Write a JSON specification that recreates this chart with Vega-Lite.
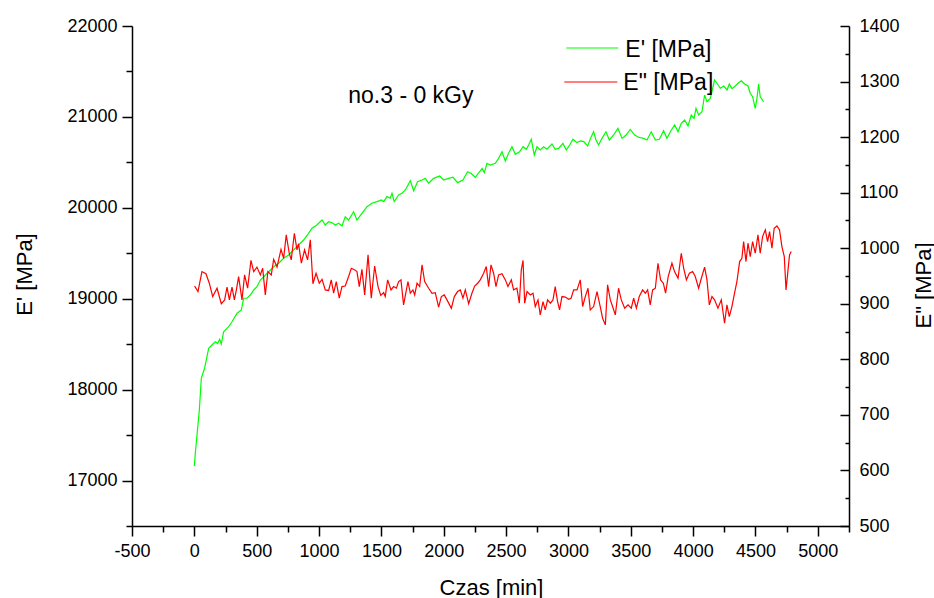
{
  "$schema": "https://vega.github.io/schema/vega-lite/v6.json",
  "width": 717,
  "height": 500,
  "autosize": {"type": "none"},
  "padding": {"left": 132, "top": 26, "right": 85, "bottom": 72},
  "background": "white",
  "config": {
    "view": {"stroke": null},
    "font": "Liberation Sans",
    "axis": {
      "grid": false,
      "domainColor": "black",
      "domainWidth": 1.5,
      "tickColor": "black",
      "tickWidth": 1.5,
      "labelFont": "Liberation Sans",
      "labelFontSize": 18,
      "labelColor": "black",
      "titleFont": "Liberation Sans",
      "titleFontSize": 22,
      "titleFontWeight": "normal",
      "titleColor": "black",
      "labelOverlap": false,
      "labelFlush": false,
      "labelBound": false
    }
  },
  "datasets": {
    "ep": [
      {"t": 0, "ep": 17160}, {"t": 8, "ep": 17303}, {"t": 40, "ep": 17776}, {"t": 56, "ep": 18128}, {"t": 82, "ep": 18235},
      {"t": 115, "ep": 18455}, {"t": 141, "ep": 18491}, {"t": 168, "ep": 18527}, {"t": 187, "ep": 18510}, {"t": 203, "ep": 18554},
      {"t": 216, "ep": 18502}, {"t": 235, "ep": 18637}, {"t": 275, "ep": 18692}, {"t": 302, "ep": 18747}, {"t": 342, "ep": 18840},
      {"t": 377, "ep": 18876}, {"t": 395, "ep": 19005}, {"t": 422, "ep": 19005}, {"t": 449, "ep": 19041}, {"t": 476, "ep": 19096},
      {"t": 502, "ep": 19132}, {"t": 529, "ep": 19206}, {"t": 556, "ep": 19242}, {"t": 596, "ep": 19297}, {"t": 636, "ep": 19352},
      {"t": 676, "ep": 19390}, {"t": 716, "ep": 19445}, {"t": 756, "ep": 19481}, {"t": 796, "ep": 19536}, {"t": 836, "ep": 19591},
      {"t": 876, "ep": 19646}, {"t": 916, "ep": 19719}, {"t": 943, "ep": 19775}, {"t": 983, "ep": 19811}, {"t": 1024, "ep": 19866},
      {"t": 1050, "ep": 19811}, {"t": 1077, "ep": 19847}, {"t": 1104, "ep": 19836}, {"t": 1130, "ep": 19811}, {"t": 1157, "ep": 19830},
      {"t": 1184, "ep": 19800}, {"t": 1210, "ep": 19902}, {"t": 1237, "ep": 19866}, {"t": 1277, "ep": 19957}, {"t": 1304, "ep": 19866},
      {"t": 1344, "ep": 19940}, {"t": 1385, "ep": 20013}, {"t": 1424, "ep": 20050}, {"t": 1465, "ep": 20068}, {"t": 1500, "ep": 20086},
      {"t": 1518, "ep": 20068}, {"t": 1545, "ep": 20123}, {"t": 1571, "ep": 20105}, {"t": 1585, "ep": 20160}, {"t": 1603, "ep": 20068},
      {"t": 1638, "ep": 20141}, {"t": 1665, "ep": 20160}, {"t": 1692, "ep": 20196}, {"t": 1732, "ep": 20298}, {"t": 1759, "ep": 20188},
      {"t": 1790, "ep": 20287}, {"t": 1826, "ep": 20306}, {"t": 1852, "ep": 20324}, {"t": 1879, "ep": 20270}, {"t": 1919, "ep": 20324},
      {"t": 1967, "ep": 20350}, {"t": 1999, "ep": 20306}, {"t": 2039, "ep": 20324}, {"t": 2074, "ep": 20336}, {"t": 2111, "ep": 20277},
      {"t": 2154, "ep": 20306}, {"t": 2191, "ep": 20397}, {"t": 2218, "ep": 20380}, {"t": 2253, "ep": 20336}, {"t": 2288, "ep": 20397},
      {"t": 2307, "ep": 20434}, {"t": 2325, "ep": 20387}, {"t": 2347, "ep": 20490}, {"t": 2373, "ep": 20471}, {"t": 2413, "ep": 20490},
      {"t": 2440, "ep": 20544}, {"t": 2467, "ep": 20617}, {"t": 2494, "ep": 20515}, {"t": 2520, "ep": 20600}, {"t": 2547, "ep": 20672},
      {"t": 2574, "ep": 20589}, {"t": 2608, "ep": 20617}, {"t": 2636, "ep": 20672}, {"t": 2662, "ep": 20644}, {"t": 2681, "ep": 20691},
      {"t": 2702, "ep": 20754}, {"t": 2726, "ep": 20581}, {"t": 2748, "ep": 20672}, {"t": 2774, "ep": 20636}, {"t": 2801, "ep": 20672},
      {"t": 2828, "ep": 20644}, {"t": 2868, "ep": 20702}, {"t": 2894, "ep": 20644}, {"t": 2921, "ep": 20654}, {"t": 2956, "ep": 20709},
      {"t": 2983, "ep": 20636}, {"t": 3010, "ep": 20691}, {"t": 3036, "ep": 20754}, {"t": 3068, "ep": 20717}, {"t": 3095, "ep": 20735},
      {"t": 3122, "ep": 20728}, {"t": 3154, "ep": 20680}, {"t": 3183, "ep": 20783}, {"t": 3202, "ep": 20837}, {"t": 3221, "ep": 20746},
      {"t": 3242, "ep": 20691}, {"t": 3269, "ep": 20764}, {"t": 3301, "ep": 20837}, {"t": 3328, "ep": 20746}, {"t": 3362, "ep": 20801},
      {"t": 3397, "ep": 20874}, {"t": 3430, "ep": 20764}, {"t": 3462, "ep": 20801}, {"t": 3496, "ep": 20863}, {"t": 3531, "ep": 20801},
      {"t": 3563, "ep": 20776}, {"t": 3603, "ep": 20764}, {"t": 3630, "ep": 20746}, {"t": 3664, "ep": 20837}, {"t": 3697, "ep": 20746},
      {"t": 3729, "ep": 20754}, {"t": 3763, "ep": 20848}, {"t": 3790, "ep": 20764}, {"t": 3825, "ep": 20856}, {"t": 3852, "ep": 20911},
      {"t": 3879, "ep": 20837}, {"t": 3905, "ep": 20930}, {"t": 3932, "ep": 20966}, {"t": 3959, "ep": 20900}, {"t": 3985, "ep": 21021},
      {"t": 4007, "ep": 20984}, {"t": 4023, "ep": 21095}, {"t": 4044, "ep": 21021}, {"t": 4071, "ep": 21057}, {"t": 4092, "ep": 21241},
      {"t": 4111, "ep": 21167}, {"t": 4137, "ep": 21204}, {"t": 4151, "ep": 21277}, {"t": 4172, "ep": 21406}, {"t": 4191, "ep": 21370},
      {"t": 4218, "ep": 21315}, {"t": 4245, "ep": 21340}, {"t": 4272, "ep": 21296}, {"t": 4290, "ep": 21362}, {"t": 4311, "ep": 21311},
      {"t": 4338, "ep": 21340}, {"t": 4365, "ep": 21376}, {"t": 4386, "ep": 21398}, {"t": 4413, "ep": 21362}, {"t": 4440, "ep": 21340},
      {"t": 4458, "ep": 21260}, {"t": 4477, "ep": 21223}, {"t": 4498, "ep": 21095}, {"t": 4512, "ep": 21204}, {"t": 4525, "ep": 21362},
      {"t": 4538, "ep": 21223}, {"t": 4565, "ep": 21167}
    ],
    "epp": [
      {"t": 2, "epp": 932}, {"t": 29, "epp": 922}, {"t": 61, "epp": 958}, {"t": 93, "epp": 954}, {"t": 120, "epp": 937},
      {"t": 147, "epp": 913}, {"t": 182, "epp": 928}, {"t": 216, "epp": 900}, {"t": 243, "epp": 907}, {"t": 262, "epp": 930},
      {"t": 281, "epp": 907}, {"t": 302, "epp": 930}, {"t": 321, "epp": 907}, {"t": 337, "epp": 925}, {"t": 355, "epp": 949},
      {"t": 382, "epp": 907}, {"t": 403, "epp": 952}, {"t": 427, "epp": 928}, {"t": 454, "epp": 978}, {"t": 476, "epp": 958},
      {"t": 502, "epp": 966}, {"t": 529, "epp": 952}, {"t": 548, "epp": 964}, {"t": 569, "epp": 916}, {"t": 590, "epp": 958},
      {"t": 617, "epp": 952}, {"t": 636, "epp": 980}, {"t": 663, "epp": 966}, {"t": 695, "epp": 998}, {"t": 716, "epp": 982},
      {"t": 737, "epp": 1024}, {"t": 761, "epp": 991}, {"t": 777, "epp": 979}, {"t": 802, "epp": 1027}, {"t": 823, "epp": 997},
      {"t": 836, "epp": 1008}, {"t": 858, "epp": 973}, {"t": 884, "epp": 997}, {"t": 908, "epp": 979}, {"t": 930, "epp": 1015},
      {"t": 951, "epp": 936}, {"t": 976, "epp": 955}, {"t": 1002, "epp": 937}, {"t": 1024, "epp": 944}, {"t": 1050, "epp": 925},
      {"t": 1077, "epp": 924}, {"t": 1098, "epp": 943}, {"t": 1117, "epp": 919}, {"t": 1138, "epp": 940}, {"t": 1162, "epp": 910},
      {"t": 1184, "epp": 931}, {"t": 1210, "epp": 932}, {"t": 1237, "epp": 949}, {"t": 1259, "epp": 964}, {"t": 1286, "epp": 961},
      {"t": 1304, "epp": 958}, {"t": 1323, "epp": 931}, {"t": 1344, "epp": 962}, {"t": 1366, "epp": 916}, {"t": 1393, "epp": 988},
      {"t": 1419, "epp": 910}, {"t": 1446, "epp": 968}, {"t": 1473, "epp": 931}, {"t": 1495, "epp": 915}, {"t": 1518, "epp": 920},
      {"t": 1531, "epp": 913}, {"t": 1550, "epp": 943}, {"t": 1577, "epp": 925}, {"t": 1598, "epp": 931}, {"t": 1620, "epp": 928},
      {"t": 1638, "epp": 940}, {"t": 1657, "epp": 943}, {"t": 1678, "epp": 898}, {"t": 1713, "epp": 940}, {"t": 1732, "epp": 919},
      {"t": 1753, "epp": 925}, {"t": 1767, "epp": 916}, {"t": 1786, "epp": 937}, {"t": 1807, "epp": 931}, {"t": 1826, "epp": 970},
      {"t": 1847, "epp": 940}, {"t": 1879, "epp": 928}, {"t": 1906, "epp": 919}, {"t": 1932, "epp": 920}, {"t": 1959, "epp": 894},
      {"t": 1981, "epp": 913}, {"t": 2004, "epp": 916}, {"t": 2026, "epp": 907}, {"t": 2061, "epp": 892}, {"t": 2085, "epp": 913},
      {"t": 2111, "epp": 922}, {"t": 2133, "epp": 925}, {"t": 2154, "epp": 910}, {"t": 2173, "epp": 925}, {"t": 2200, "epp": 900},
      {"t": 2226, "epp": 919}, {"t": 2248, "epp": 932}, {"t": 2272, "epp": 937}, {"t": 2293, "epp": 943}, {"t": 2320, "epp": 955},
      {"t": 2341, "epp": 967}, {"t": 2360, "epp": 931}, {"t": 2379, "epp": 970}, {"t": 2400, "epp": 955}, {"t": 2419, "epp": 931},
      {"t": 2440, "epp": 952}, {"t": 2467, "epp": 954}, {"t": 2494, "epp": 943}, {"t": 2515, "epp": 931}, {"t": 2542, "epp": 943},
      {"t": 2560, "epp": 925}, {"t": 2587, "epp": 928}, {"t": 2606, "epp": 901}, {"t": 2622, "epp": 961}, {"t": 2636, "epp": 978},
      {"t": 2649, "epp": 901}, {"t": 2668, "epp": 922}, {"t": 2694, "epp": 916}, {"t": 2716, "epp": 919}, {"t": 2734, "epp": 895},
      {"t": 2756, "epp": 907}, {"t": 2774, "epp": 880}, {"t": 2796, "epp": 904}, {"t": 2814, "epp": 889}, {"t": 2833, "epp": 907},
      {"t": 2855, "epp": 901}, {"t": 2876, "epp": 907}, {"t": 2894, "epp": 931}, {"t": 2913, "epp": 904}, {"t": 2929, "epp": 889},
      {"t": 2948, "epp": 913}, {"t": 2975, "epp": 912}, {"t": 3002, "epp": 908}, {"t": 3021, "epp": 910}, {"t": 3042, "epp": 925},
      {"t": 3069, "epp": 925}, {"t": 3095, "epp": 943}, {"t": 3114, "epp": 895}, {"t": 3135, "epp": 913}, {"t": 3157, "epp": 928},
      {"t": 3175, "epp": 889}, {"t": 3202, "epp": 895}, {"t": 3229, "epp": 922}, {"t": 3255, "epp": 895}, {"t": 3274, "epp": 874},
      {"t": 3296, "epp": 862}, {"t": 3314, "epp": 934}, {"t": 3336, "epp": 907}, {"t": 3354, "epp": 895}, {"t": 3376, "epp": 880},
      {"t": 3402, "epp": 928}, {"t": 3424, "epp": 907}, {"t": 3451, "epp": 892}, {"t": 3478, "epp": 898}, {"t": 3504, "epp": 892},
      {"t": 3523, "epp": 910}, {"t": 3545, "epp": 892}, {"t": 3568, "epp": 913}, {"t": 3595, "epp": 925}, {"t": 3617, "epp": 919},
      {"t": 3635, "epp": 925}, {"t": 3656, "epp": 898}, {"t": 3675, "epp": 925}, {"t": 3697, "epp": 928}, {"t": 3718, "epp": 973},
      {"t": 3739, "epp": 943}, {"t": 3761, "epp": 937}, {"t": 3779, "epp": 919}, {"t": 3800, "epp": 949}, {"t": 3830, "epp": 973},
      {"t": 3851, "epp": 958}, {"t": 3879, "epp": 946}, {"t": 3905, "epp": 991}, {"t": 3924, "epp": 964}, {"t": 3946, "epp": 943},
      {"t": 3970, "epp": 955}, {"t": 3996, "epp": 958}, {"t": 4017, "epp": 949}, {"t": 4044, "epp": 928}, {"t": 4066, "epp": 946},
      {"t": 4092, "epp": 966}, {"t": 4111, "epp": 943}, {"t": 4130, "epp": 898}, {"t": 4151, "epp": 913}, {"t": 4172, "epp": 907},
      {"t": 4199, "epp": 892}, {"t": 4226, "epp": 907}, {"t": 4252, "epp": 865}, {"t": 4271, "epp": 898}, {"t": 4290, "epp": 877},
      {"t": 4311, "epp": 895}, {"t": 4332, "epp": 919}, {"t": 4351, "epp": 940}, {"t": 4373, "epp": 976}, {"t": 4391, "epp": 982},
      {"t": 4405, "epp": 1012}, {"t": 4424, "epp": 976}, {"t": 4440, "epp": 1009}, {"t": 4458, "epp": 985}, {"t": 4477, "epp": 1012},
      {"t": 4498, "epp": 991}, {"t": 4520, "epp": 1024}, {"t": 4538, "epp": 991}, {"t": 4557, "epp": 1021}, {"t": 4579, "epp": 1033},
      {"t": 4597, "epp": 1012}, {"t": 4613, "epp": 1030}, {"t": 4632, "epp": 1000}, {"t": 4650, "epp": 1036}, {"t": 4672, "epp": 1040},
      {"t": 4693, "epp": 1033}, {"t": 4712, "epp": 1003}, {"t": 4731, "epp": 985}, {"t": 4745, "epp": 925}, {"t": 4761, "epp": 961},
      {"t": 4773, "epp": 988}, {"t": 4787, "epp": 994}
    ],
    "legendLines": [
      {"s": "E'", "t": 2983, "t2": 3400, "ep": 21758},
      {"s": "E''", "t": 2967, "t2": 3392, "ep": 21384}
    ],
    "labels": [
      {"label": "E' [MPa]", "t": 3456, "ep": 21736},
      {"label": "E\" [MPa]", "t": 3440, "ep": 21373},
      {"label": "no.3 - 0 kGy", "t": 1234, "ep": 21225}
    ]
  },
  "layer": [
    {
      "layer": [
        {
          "data": {"name": "ep"},
          "mark": {"type": "line", "color": "#00ff00", "strokeWidth": 1.2},
          "encoding": {
            "x": {
              "field": "t", "type": "quantitative",
              "scale": {"domain": [-500, 5250], "nice": false, "zero": false},
              "axis": {
                "orient": "bottom",
                "title": "Czas [min]",
                "values": [-500, 0, 500, 1000, 1500, 2000, 2500, 3000, 3500, 4000, 4500, 5000],
                "labelExpr": "toString(datum.value)",
                "tickSize": 10,
                "labelPadding": 6,
                "titleX": 359,
                "titleY": 68,
                "titleAlign": "center",
                "titleBaseline": "alphabetic"
              }
            },
            "y": {
              "field": "ep", "type": "quantitative",
              "scale": {"domain": [16500, 22000], "nice": false, "zero": false},
              "axis": {
                "orient": "left",
                "title": "E' [MPa]",
                "values": [17000, 18000, 19000, 20000, 21000, 22000],
                "labelExpr": "toString(datum.value)",
                "tickSize": 10,
                "labelPadding": 5,
                "titleAngle": 270,
                "titleX": -108,
                "titleY": 248,
                "titleAlign": "center",
                "titleBaseline": "middle"
              }
            }
          }
        },
        {
          "data": {"name": "legendLines"},
          "mark": {"type": "point", "opacity": 0},
          "encoding": {
            "x": {
              "field": "t", "type": "quantitative",
              "scale": {"domain": [-500, 5250], "nice": false, "zero": false},
              "axis": {
                "orient": "bottom",
                "title": null,
                "values": [-250, 250, 750, 1250, 1750, 2250, 2750, 3250, 3750, 4250, 4750, 5250],
                "labels": false,
                "domain": false,
                "tickSize": 6
              }
            },
            "y": {
              "field": "ep", "type": "quantitative",
              "scale": {"domain": [16500, 22000], "nice": false, "zero": false},
              "axis": {
                "orient": "left",
                "title": null,
                "values": [16500, 17500, 18500, 19500, 20500, 21500],
                "labels": false,
                "domain": false,
                "tickSize": 6
              }
            }
          }
        },
        {
          "data": {"name": "legendLines"},
          "mark": {"type": "rule", "strokeWidth": 1.2},
          "encoding": {
            "x": {"field": "t", "type": "quantitative", "scale": {"domain": [-500, 5250], "nice": false, "zero": false}, "axis": null},
            "x2": {"field": "t2"},
            "y": {"field": "ep", "type": "quantitative", "scale": {"domain": [16500, 22000], "nice": false, "zero": false}, "axis": null},
            "color": {"field": "s", "type": "nominal", "scale": {"domain": ["E'", "E''"], "range": ["#00ff00", "#ff0000"]}, "legend": null}
          }
        },
        {
          "data": {"name": "labels"},
          "mark": {"type": "text", "align": "left", "baseline": "middle", "fontSize": 23, "font": "Liberation Sans", "color": "black"},
          "encoding": {
            "x": {"field": "t", "type": "quantitative", "scale": {"domain": [-500, 5250], "nice": false, "zero": false}, "axis": null},
            "y": {"field": "ep", "type": "quantitative", "scale": {"domain": [16500, 22000], "nice": false, "zero": false}, "axis": null},
            "text": {"field": "label"}
          }
        }
      ],
      "resolve": {"axis": {"x": "independent", "y": "independent"}}
    },
    {
      "layer": [
        {
          "data": {"name": "epp"},
          "mark": {"type": "line", "color": "#ff0000", "strokeWidth": 1.2},
          "encoding": {
            "x": {"field": "t", "type": "quantitative", "scale": {"domain": [-500, 5250], "nice": false, "zero": false}, "axis": null},
            "y": {
              "field": "epp", "type": "quantitative",
              "scale": {"domain": [500, 1400], "nice": false, "zero": false},
              "axis": {
                "orient": "right",
                "title": "E\" [MPa]",
                "values": [500, 600, 700, 800, 900, 1000, 1100, 1200, 1300, 1400],
                "labelExpr": "toString(datum.value)",
                "tickSize": -9,
                "labelPadding": 19,
                "titleAngle": 270,
                "titleX": 74,
                "titleY": 259,
                "titleAlign": "center",
                "titleBaseline": "middle"
              }
            }
          }
        },
        {
          "data": {"name": "epp"},
          "mark": {"type": "point", "opacity": 0},
          "encoding": {
            "x": {"field": "t", "type": "quantitative", "scale": {"domain": [-500, 5250], "nice": false, "zero": false}, "axis": null},
            "y": {
              "field": "epp", "type": "quantitative",
              "scale": {"domain": [500, 1400], "nice": false, "zero": false},
              "axis": {
                "orient": "right",
                "title": null,
                "values": [550, 650, 750, 850, 950, 1050, 1150, 1250, 1350],
                "labels": false,
                "domain": false,
                "tickSize": -4
              }
            }
          }
        }
      ],
      "resolve": {"axis": {"y": "independent"}}
    }
  ],
  "resolve": {"scale": {"y": "independent"}, "axis": {"x": "independent", "y": "independent"}}
}
